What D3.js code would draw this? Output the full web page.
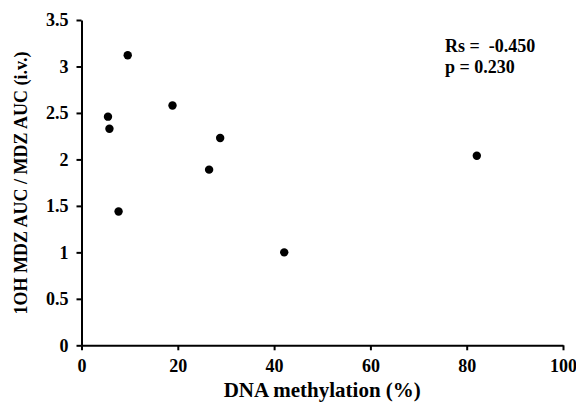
<!DOCTYPE html>
<html><head><meta charset="utf-8">
<script src="https://cdn.jsdelivr.net/npm/d3@7"></script>
<style>body{margin:0;background:#fff}svg{display:block}text{font-family:"Liberation Serif","Times New Roman",serif;font-weight:bold;fill:#000}</style>
</head><body><svg id="c" width="576" height="403"></svg>
<script>
const xValues = [9.6, 18.9, 5.5, 5.8, 28.8, 26.5, 7.7, 42.1, 82.1];
const yValues = [3.12, 2.58, 2.46, 2.33, 2.23, 1.89, 1.44, 1.00, 2.04];
const xTicks = [0, 20, 40, 60, 80, 100];
const yTicks = [0, 0.5, 1, 1.5, 2, 2.5, 3, 3.5];
const xLabel = "DNA methylation (%)";
const yLabel = "1OH MDZ AUC / MDZ AUC (i.v.)";
const statLines = ["Rs =  -0.450", "p = 0.230"];

const svg = d3.select("#c");
const x = d3.scaleLinear().domain([0, 100]).range([81.5, 563]);
const y = d3.scaleLinear().domain([0, 3.5]).range([345.3, 20]);

const xa = svg.append("g").attr("transform", `translate(0,${y(0)})`)
  .call(d3.axisBottom(x).tickValues(xTicks).tickSize(5).tickSizeOuter(0).tickPadding(9).tickFormat(d3.format("d")));
const ya = svg.append("g").attr("transform", `translate(${x(0)},0)`)
  .call(d3.axisLeft(y).tickValues(yTicks).tickSize(5).tickSizeOuter(0).tickPadding(8).tickFormat(d => String(d)));
[xa, ya].forEach(a => {
  a.selectAll("path,line").attr("stroke", "#000").attr("stroke-width", 2);
  a.selectAll("text").style("font-size", "18px").style("font-family", "Liberation Serif").style("font-weight", "bold");
});

svg.append("g").selectAll("circle").data(xValues).join("circle")
  .attr("cx", d => x(d)).attr("cy", (d, i) => y(yValues[i])).attr("r", 4.2).attr("fill", "#000");

svg.append("text").attr("x", (x(0) + x(100)) / 2).attr("y", 397).attr("text-anchor", "middle")
  .style("font-size", "21px").text(xLabel);
svg.append("text").attr("transform", "translate(27,183) rotate(-90)").attr("text-anchor", "middle")
  .style("font-size", "18px").text(yLabel);
svg.append("g").selectAll("text").data(statLines).join("text")
  .attr("x", 445).attr("y", (d, i) => 52 + i * 21).style("font-size", "18px")
  .attr("xml:space", "preserve").style("white-space", "pre").text(d => d);
</script></body></html>
